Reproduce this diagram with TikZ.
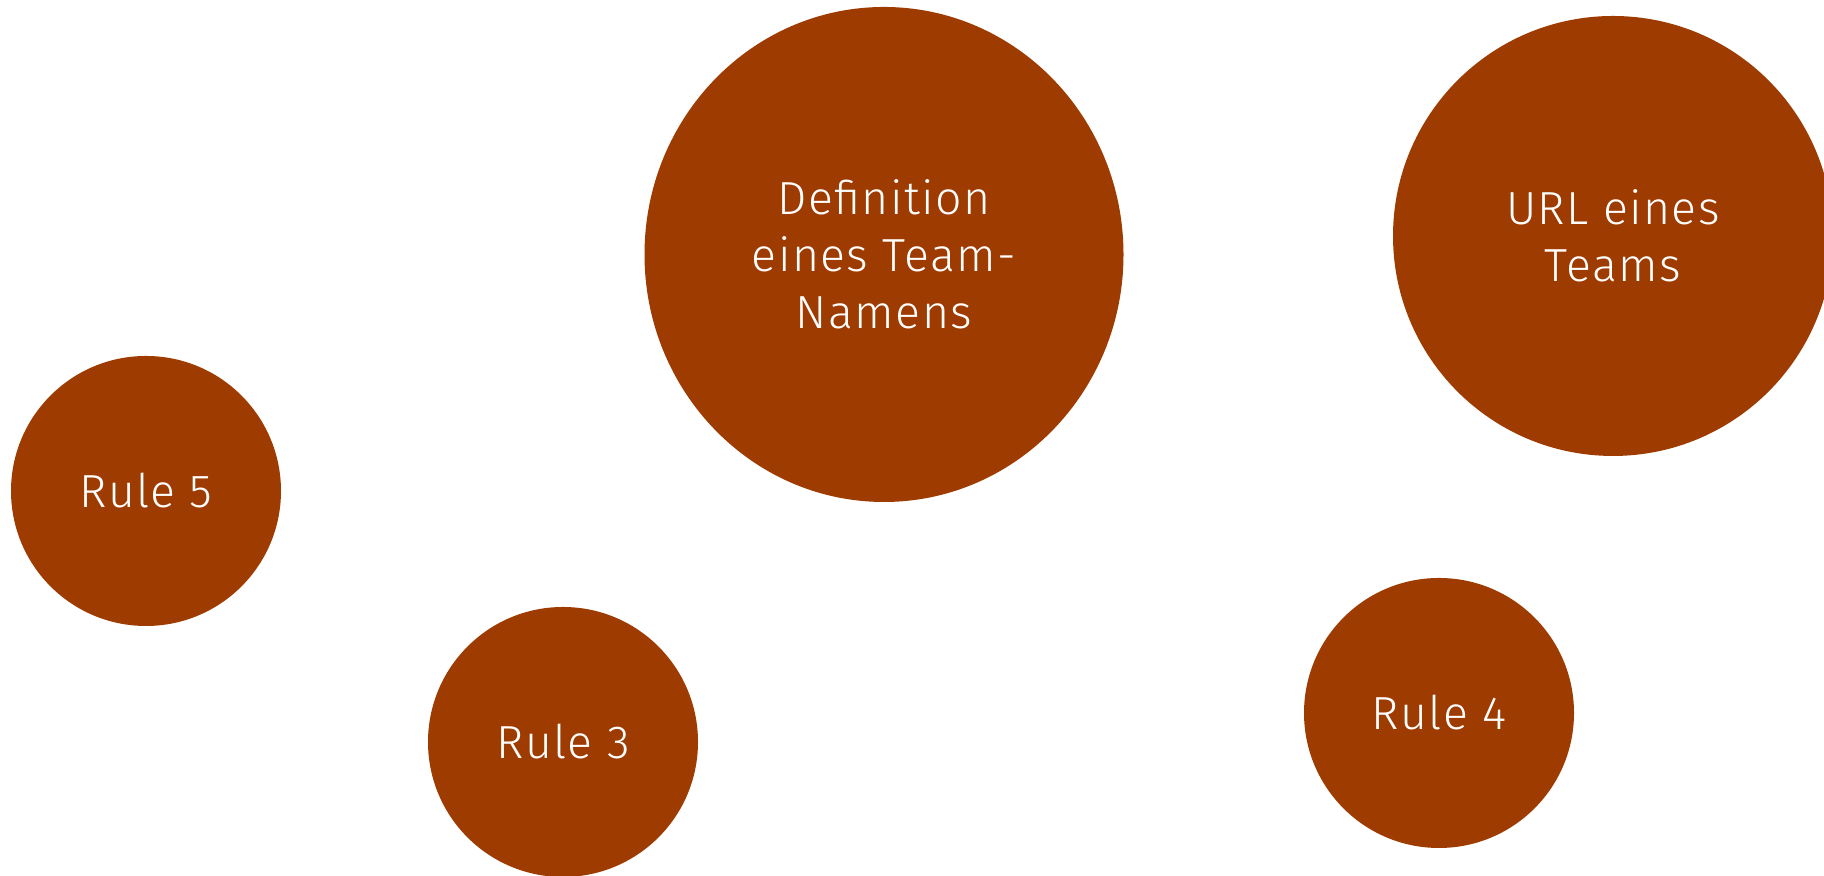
\documentclass[tikz,border=0pt]{standalone}
\usepackage{fontspec}
\setmainfont{Fira Sans}[UprightFont=* Light, LetterSpace=3]
\usetikzlibrary{shapes.geometric}
\definecolor{rust}{RGB}{158,59,0}
\begin{document}
\begin{tikzpicture}

    \tikzset{bubble/.style={fill=rust,draw=none,shape=circle,inner sep=0pt,
        text=white,align=center,font=\fontsize{13.2}{16.2}\selectfont}}
    \useasboundingbox (0,0) rectangle (18.24,8.76);

    \node[bubble,shape=ellipse,minimum width=4.79cm,minimum height=4.95cm] (c1) at ( 8.84, 6.215) {Definition\\eines Team-\\Namens};
    \node[bubble,minimum size=4.40cm] (c2) at ( 16.13, 6.40) {URL eines\\Teams};

    % Reglas.
    \node[bubble,minimum size=2.70cm] (c3) at ( 1.46, 3.85) {Rule 5};
    \node[bubble,minimum size=2.70cm] (c4) at ( 5.63, 1.34) {Rule 3};
    \node[bubble,minimum size=2.70cm] (c5) at ( 14.39, 1.63) {Rule 4};

\end{tikzpicture}
\end{document}
